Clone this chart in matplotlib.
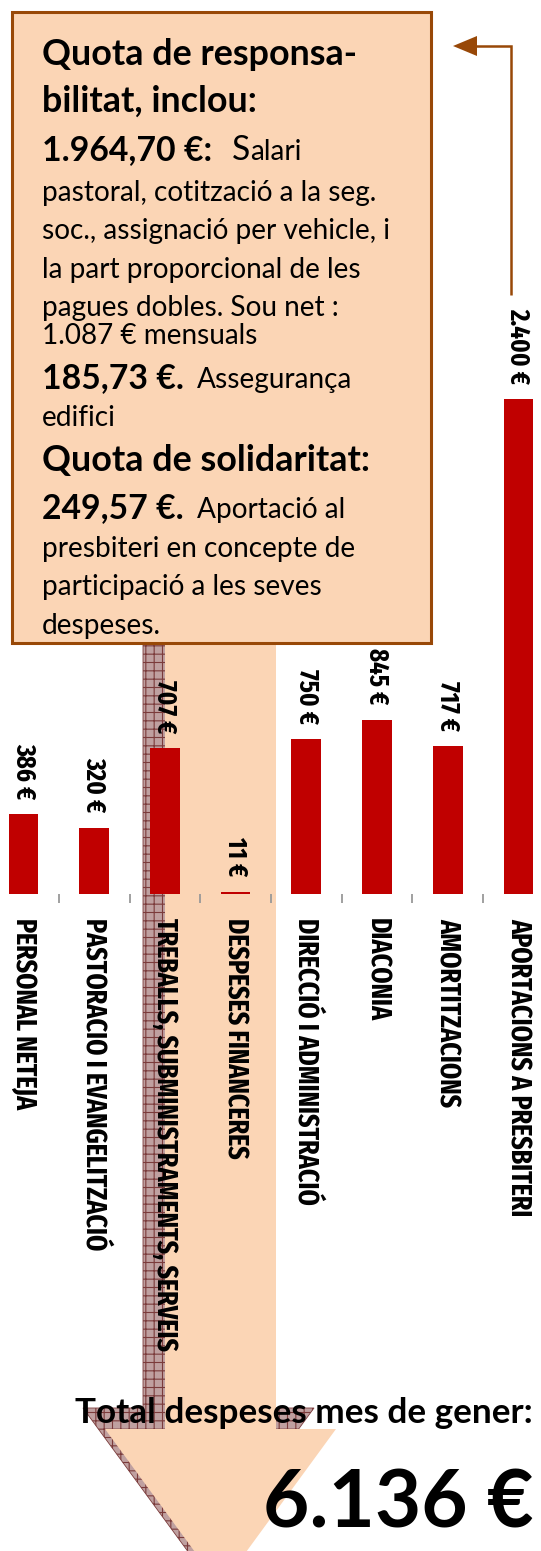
import os
import matplotlib
matplotlib.use("Agg")
import matplotlib.pyplot as plt
from matplotlib.patches import Polygon, Rectangle
from matplotlib import font_manager as fm
import numpy as np

# ---------------- data ----------------
categories = ["PERSONAL NETEJA", "PASTORACIO I EVANGELITZACIÓ",
              "TREBALLS, SUBMINISTRAMENTS, SERVEIS", "DESPESES FINANCERES",
              "DIRECCIÓ I ADMINISTRACIÓ", "DIACONIA", "AMORTITZACIONS",
              "APORTACIONS A PRESBITERI"]
values = [386, 320, 707, 11, 750, 845, 717, 2400]


def eur(v):
    return f"{v:,}".replace(",", ".") + " €"


value_labels = [eur(v) for v in values]
total_title = "Total despeses mes de gener:"
total_label = eur(sum(values))

# ---------------- fonts ----------------
def _w(f):
    w = f.weight
    if isinstance(w, str):
        w = {"bold": 700, "heavy": 800, "black": 900, "semibold": 600,
             "demibold": 600}.get(w.lower(), 400)
    return w


def find_narrow_bold():
    fonts = fm.fontManager.ttflist
    ranks = [("extracondensed", 0), ("extra condensed", 0), ("narrow", 1),
             ("condensed", 2), ("cond", 3), ("semicondensed", 4)]
    best = None
    for f in fonts:
        key = (f.name + " " + os.path.basename(f.fname)).lower().replace("-", "")
        st = str(f.stretch).lower()
        if f.style != "normal" or _w(f) < 650 or _w(f) > 760:
            continue
        if "italic" in key or "oblique" in key:
            continue
        r = None
        if "semicondensed" in key or st == "semi-condensed":
            r = 4
        elif "extracondensed" in key or st == "extra-condensed":
            r = 0
        elif "narrow" in key:
            r = 1
        elif "condensed" in key or st == "condensed":
            r = 2
        if r is None:
            continue
        if best is None or r < best[0]:
            best = (r, f.fname)
    if best:
        return fm.FontProperties(fname=best[1])
    return fm.FontProperties(family="DejaVu Sans", weight="bold")


NARROW_FP = find_narrow_bold()

# ---------------- figure ----------------
W, H = 541, 1551
fig = plt.figure(figsize=(W / 100, H / 100), dpi=100)
renderer = fig.canvas.get_renderer()

PEACH = "#FBD5B5"
BROWN = "#984807"
RED = "#C00000"
BOXFONT = ["Lato", "DejaVu Sans"]


def text_width(s, size, **kw):
    kw = dict(kw)
    if "fontproperties" in kw:
        fp = kw.pop("fontproperties").copy()
        fp.set_size(size)
        t = fig.text(0, 0, s, fontproperties=fp, **kw)
    else:
        t = fig.text(0, 0, s, fontsize=size, **kw)
    w = t.get_window_extent(renderer).width
    t.remove()
    return w


def fit(s, target, **kw):
    return 20 * target / text_width(s, 20, **kw)


def sized(fp, size):
    p = fp.copy()
    p.set_size(size)
    return p


# background axes (pixel coords, y downward)
ax_bg = fig.add_axes([0, 0, 1, 1], zorder=0)
ax_bg.set_xlim(0, W)
ax_bg.set_ylim(H, 0)
ax_bg.axis("off")

plt.rcParams["hatch.linewidth"] = 0.8


def block_arrow(cx, x0, x1, base, hl, hr, tip, top):
    return [(x0, top), (x1, top), (x1, base), (hr, base), (cx, tip),
            (hl, base), (x0, base)]

# shadow
dx, dy = -22, -21
sh = block_arrow(220.5 + dx, 165 + dx, 276 + dx, 1429 + dy, 105 + dx, 336 + dx,
                 1587 + dy, 560)
ax_bg.add_patch(Polygon(sh, closed=True, facecolor="#BFA0A0",
                        edgecolor="#7B3B3B", hatch="++", linewidth=0.6))
# main arrow
ma = block_arrow(220.5, 165, 276, 1429, 105, 336, 1587, 560)
ax_bg.add_patch(Polygon(ma, closed=True, facecolor=PEACH, edgecolor="none"))

# ---------------- bar chart axes ----------------
base_px, top_px = 894, 399
spacing, c0 = 70.7, 23.5
ax = fig.add_axes([0, (H - base_px) / H, 1, (base_px - top_px) / H], zorder=1)
ax.patch.set_alpha(0)
x = np.arange(len(categories))
ax.bar(x, values, width=0.42, color=RED, zorder=3)
ax.set_xlim(-c0 / spacing, (W - c0) / spacing)
ax.set_ylim(0, 2400)
for s in ax.spines.values():
    s.set_visible(False)
ax.set_yticks([])

cat_size = fit(categories[2], 434, fontproperties=NARROW_FP)
ax.set_xticks(x)
ax.set_xticklabels(categories, rotation=-90,
                   fontproperties=sized(NARROW_FP, cat_size),
                   va="top", ha="center")
ax.tick_params(axis="x", which="major", length=0, pad=17)
ax.set_xticks(np.arange(0.5, len(categories) - 1), minor=True)
ax.tick_params(axis="x", which="minor", length=6.5, width=1.3,
               color="#999999", direction="out")

val_size = fit(value_labels[-1], 76, fontproperties=NARROW_FP)
for xi, v, lab in zip(x, values, value_labels):
    ax.annotate(lab, (xi, v), xytext=(0, 11), textcoords="offset points",
                rotation=-90, ha="center", va="bottom",
                fontproperties=sized(NARROW_FP, val_size),
                annotation_clip=False)

# ---------------- foreground (callout box, texts) ----------------
ax_fg = fig.add_axes([0, 0, 1, 1], zorder=2)
ax_fg.set_xlim(0, W)
ax_fg.set_ylim(H, 0)
ax_fg.axis("off")

box = Rectangle((12, 12), 419, 631, facecolor=PEACH, edgecolor=BROWN,
                linewidth=2.2, zorder=1)
ax_fg.add_patch(box)

# connector arrow
ax_fg.plot([511, 511, 476], [295, 46, 46], color=BROWN, lw=1.8, zorder=2,
           solid_capstyle="butt", solid_joinstyle="miter")
ax_fg.add_patch(Polygon([(453, 46), (477, 36), (477, 56)], closed=True,
                        facecolor=BROWN, edgecolor="none", zorder=2))

heading = [("Quota de responsa-", 307), ("bilitat, inclou:", 216),
           ("Quota de solidaritat:", 328)]
amount = [("1.964,70 €:", 171), ("185,73 €.", 142), ("249,57 €.", 142)]
regular = [("pastoral, cotització a la seg.", 336),
           ("soc., assignació per vehicle, i", 348),
           ("la part proporcional de les", 320),
           ("pagues dobles. Sou net :", 297), ("edifici", 72),
           ("presbiteri en concepte de", 316),
           ("participació a les seves", 281), ("despeses.", 120),
           ("Assegurança", 154), ("Aportació al", 147)]
small = [("1.087 € mensuals", 215)]

bold_kw = dict(fontweight="bold", family=BOXFONT)
reg_kw = dict(fontweight="normal", family=BOXFONT)
s_head = float(np.median([fit(t, w, **bold_kw) for t, w in heading]))
s_amt = float(np.median([fit(t, w, **bold_kw) for t, w in amount]))
s_reg = float(np.median([fit(t, w, **reg_kw) for t, w in regular]))
s_small = fit(small[0][0], small[0][1], **reg_kw)


def put(xp, yp, s, size, kw):
    t = ax_fg.text(xp, yp, s, fontsize=size, va="baseline", ha="left",
                   zorder=3, **kw)
    t.set_clip_path(box)
    return t

L = 42
put(L, 65, heading[0][0], s_head, bold_kw)
put(L, 112, heading[1][0], s_head, bold_kw)
put(L, 160, amount[0][0], s_amt, bold_kw)
put(232, 160, "S", s_amt * 1.0, reg_kw)
sw = text_width("S", s_amt * 1.0, **reg_kw)
put(232 + sw, 160, "alari", s_reg, reg_kw)
put(L, 201, regular[0][0], s_reg, reg_kw)
put(L, 239, regular[1][0], s_reg, reg_kw)
put(L, 278, regular[2][0], s_reg, reg_kw)
put(L, 316, regular[3][0], s_reg, reg_kw)
put(L, 344, small[0][0], s_small, reg_kw)
put(L, 388, amount[1][0], s_amt, bold_kw)
put(197, 388, regular[8][0], s_reg, reg_kw)
put(L, 426, regular[4][0], s_reg, reg_kw)
put(L, 471, heading[2][0], s_head, bold_kw)
put(L, 518, amount[2][0], s_amt, bold_kw)
put(197, 518, regular[9][0], s_reg, reg_kw)
put(L, 557, regular[5][0], s_reg, reg_kw)
put(L, 595, regular[6][0], s_reg, reg_kw)
put(L, 634, regular[7][0], s_reg, reg_kw)

# totals
s_tt = fit(total_title, 458, **bold_kw)
ax_fg.text(75, 1423, total_title, fontsize=s_tt, va="baseline", ha="left",
           zorder=3, **bold_kw)
s_tl = fit(total_label, 270, **bold_kw)
ax_fg.text(263, 1527, total_label, fontsize=s_tl, va="baseline", ha="left",
           zorder=3, **bold_kw)

fig.savefig("out.png", dpi=100)
